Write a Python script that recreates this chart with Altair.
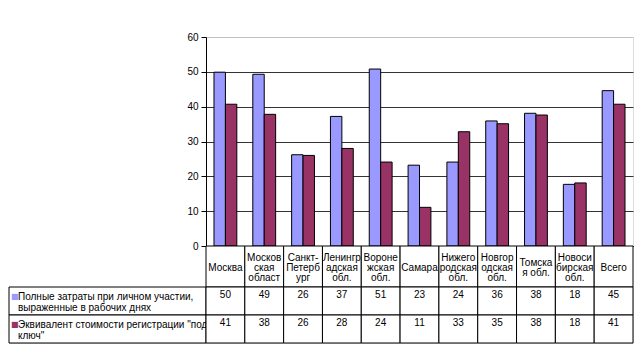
import altair as alt
import pandas as pd

# Category labels as they are wrapped in the chart ("|" = line break)
categories = ["Москва", "Москов|ская|област", "Санкт-|Петерб|ург", "Ленингр|адская|обл.",
              "Вороне|жская|обл.", "Самара", "Нижего|родская|обл.", "Новгор|одская|обл.",
              "Томска|я обл.", "Новоси|бирская|обл.", "Всего"]
series = ["Полные затраты при личном участии, выраженные в рабочих днях",
          "Эквивалент стоимости регистрации \"под ключ\""]
row_labels = ["Полные затраты при личном участии,|выраженные в рабочих днях",
              "Эквивалент стоимости регистрации \"под|ключ\""]
# bar heights
bar_full = [49.9, 49.3, 26.2, 37.2, 50.8, 23.2, 24.1, 35.9, 38.1, 17.7, 44.6]
bar_key = [40.7, 37.8, 26.0, 28.0, 24.1, 11.1, 32.8, 35.1, 37.6, 18.1, 40.7]
# values printed in the data table
table_full = [50, 49, 26, 37, 51, 23, 24, 36, 38, 18, 45]
table_key = [41, 38, 26, 28, 24, 11, 33, 35, 38, 18, 41]
y_ticks = [0, 10, 20, 30, 40, 50, 60]
colors = ["#9999FF", "#993366"]

FONT = "Liberation Sans"

bars_df = pd.DataFrame(
    [{"cat": c, "series": series[0], "value": v} for c, v in zip(categories, bar_full)]
    + [{"cat": c, "series": series[1], "value": v} for c, v in zip(categories, bar_key)]
)
table_df = pd.DataFrame(
    [{"cat": c, "series": series[0], "value": v} for c, v in zip(categories, table_full)]
    + [{"cat": c, "series": series[1], "value": v} for c, v in zip(categories, table_key)]
)
labels_df = pd.DataFrame({"series": series, "label": row_labels, "swatch": ["■", "■"]})

# header lines: one row per wrapped line, centred line index
header_rows = []
for c in categories:
    parts = c.split("|")
    n = len(parts)
    for i, p in enumerate(parts):
        header_rows.append({"cat": c, "text": p, "line": i - (n - 1) / 2})
header_df = pd.DataFrame(header_rows)

x_scale = alt.Scale(domain=categories, paddingInner=0, paddingOuter=0)
row_scale = alt.Scale(domain=series, paddingInner=0, paddingOuter=0)
color_scale = alt.Scale(domain=series, range=colors)
blank_view = alt.ViewBackground(stroke="transparent")

bars = alt.Chart(bars_df).mark_bar(stroke="black", strokeWidth=1).encode(
    x=alt.X("cat:N", sort=categories, scale=x_scale,
            axis=alt.Axis(title=None, domainColor="black", ticks=False, labels=False,
                          minExtent=0)),
    xOffset=alt.XOffset("series:N", sort=series,
                        scale=alt.Scale(domain=series, paddingInner=0, paddingOuter=0.7)),
    y=alt.Y("value:Q", scale=alt.Scale(domain=[0, 60], nice=False),
            axis=alt.Axis(title=None, values=y_ticks, grid=True,
                          gridColor={"condition": {"test": "datum.value == 60", "value": "#c0c0c0"},
                                     "value": "#333333"},
                          domainColor="black", tickColor="black", tickSize=5,
                          labelPadding=3, labelFontSize=10, labelColor="black",
                          labelFont=FONT)),
    color=alt.Color("series:N", sort=series, scale=color_scale, legend=None),
).properties(width=427, height=209)

spacer_top = alt.Chart(labels_df).mark_point(opacity=0).encode(
    y=alt.Y("series:N", axis=None)
).properties(width=197, height=209, view=blank_view)
spacer_head = alt.Chart(labels_df).mark_point(opacity=0).encode(
    y=alt.Y("series:N", axis=None)
).properties(width=197, height=41, view=blank_view)

head_cells = alt.Chart(pd.DataFrame({"cat": categories})).mark_rect(
    fill="white", stroke="black", strokeWidth=1
).encode(x=alt.X("cat:N", sort=categories, scale=x_scale, axis=None))
head_text = alt.Chart(header_df).mark_text(
    fontSize=10, font=FONT, baseline="middle", color="black"
).encode(
    x=alt.X("cat:N", sort=categories, scale=x_scale, axis=None),
    y=alt.Y("line:Q", scale=alt.Scale(domain=[1.9, -2.2], nice=False, zero=False), axis=None),
    text="text:N",
)
header = alt.layer(head_cells, head_text).properties(width=427, height=41, view=blank_view)

label_base = alt.Chart(labels_df).encode(
    y=alt.Y("series:N", sort=series, scale=row_scale, axis=None)
)
label_cells = label_base.mark_rect(fill="white", stroke="black", strokeWidth=1)
label_text = label_base.mark_text(align="left", baseline="middle", lineBreak="|",
                                  fontSize=10, font=FONT, lineHeight=11, color="black",
                                  dy=-4).encode(
    x=alt.value(9), text="label:N")
label_swatch = label_base.mark_text(align="left", baseline="middle", fontSize=8,
                                    font="DejaVu Sans", dy=-4).encode(
    x=alt.value(2), text="swatch:N",
    color=alt.Color("series:N", sort=series, scale=color_scale, legend=None))
label_chart = alt.layer(label_cells, label_swatch, label_text).properties(width=197, height=56)

rows_base = alt.Chart(table_df).encode(
    x=alt.X("cat:N", sort=categories, scale=x_scale, axis=None),
    y=alt.Y("series:N", sort=series, scale=row_scale, axis=None),
)
rows_cells = rows_base.mark_rect(fill="white", stroke="black", strokeWidth=1)
rows_text = rows_base.mark_text(fontSize=10, font=FONT, dy=-6, color="black").encode(
    text="value:Q")
rows_chart = alt.layer(rows_cells, rows_text).properties(width=427, height=56)

chart = alt.concat(
    spacer_top, bars, spacer_head, header, label_chart, rows_chart,
    columns=2,
    spacing=0,
    bounds="flush",
).properties(
    padding={"left": 8, "top": 31, "right": 5, "bottom": 5},
    background="white",
).configure_view(stroke="#c0c0c0").configure(font=FONT)

chart.save("out.html", embed_options={"renderer": "svg", "actions": False})
